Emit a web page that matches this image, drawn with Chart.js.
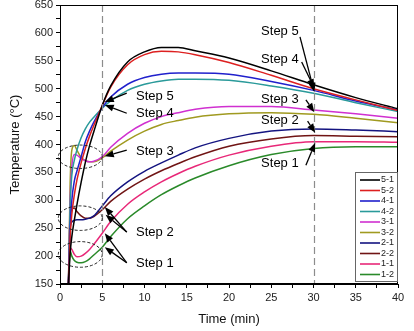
<!DOCTYPE html>
<html>
<head>
<meta charset="utf-8">
<script src="https://cdn.jsdelivr.net/npm/chart.js@4.4.0/dist/chart.umd.min.js"></script>
<style>
  html, body { margin: 0; padding: 0; background: #fff; }
  #wrap { width: 414px; height: 331px; }
</style>
</head>
<body>
<div id="wrap"><canvas id="tempChart" width="414" height="331"></canvas></div>
<script>
// --- Data (time in min, temperature in °C) ---
const times = [1, 1.2, 1.4, 1.7, 2, 2.5, 3, 3.5, 4, 5, 6, 8, 10, 12, 14, 16, 20, 25, 30, 35, 40];

const seriesNames = ['5-1', '5-2', '4-1', '4-2', '3-1', '3-2', '2-1', '2-2', '1-1', '1-2'];
const seriesColors = ['#000000', '#dd2020', '#2020cc', '#2a9a9a', '#d030d0',
                      '#a09a20', '#141480', '#701414', '#e82878', '#2a8a2a'];

const temp51 = [150, 205, 235, 265, 292, 332, 368, 398, 423, 470, 505, 548, 566, 574, 574, 568, 555, 532, 507, 484, 464];
const temp52 = [150, 235, 275, 310, 336, 367, 393, 415, 434, 470, 503, 543, 561, 567, 566, 561, 547, 524, 500, 480, 461];
const temp41 = [150, 250, 300, 335, 352, 378, 405, 424, 440, 466, 485, 508, 520, 526, 528, 528, 526, 513, 497, 478, 462];
const temp42 = [150, 290, 345, 372, 390, 412, 428, 440, 449, 465, 478, 497, 508, 514, 517, 517, 515, 505, 492, 475, 459];
const temp31 = [150, 300, 360, 382, 381, 375, 371, 369, 370, 378, 395, 420, 438, 450, 457, 463, 468, 468, 462, 455, 447];
const temp32 = [150, 330, 390, 398, 390, 377, 371, 369, 369, 376, 388, 408, 424, 436, 443, 449, 455, 457, 454, 447, 439];
const temp21 = [150, 250, 261, 264, 265, 265, 266, 268, 272, 290, 308, 333, 352, 367, 381, 394, 411, 424, 428, 426, 423];
const temp22 = [150, 270, 284, 286, 280, 272, 268, 268, 271, 283, 298, 320, 338, 353, 366, 378, 397, 410, 416, 415, 414];
const temp11 = [150, 215, 212, 203, 199, 200, 205, 212, 221, 241, 262, 293, 315, 333, 348, 361, 381, 397, 405, 405, 404];
const temp12 = [150, 210, 200, 192, 189, 188, 190, 195, 202, 216, 235, 267, 290, 310, 326, 340, 362, 382, 393, 396, 396];

const allTemps = [temp51, temp52, temp41, temp42, temp31, temp32, temp21, temp22, temp11, temp12];

// dashed reference lines (min)
const markerTimes = [5, 30];

// dashed ellipses: [centre time, centre temp, half-width (min), half-height (°C)]
const ellipses = [
    [2.4, 378, 2.6, 21],
    [2.4, 268, 2.6, 22],
    [2.4, 203, 2.6, 23]
];

// annotation labels: [text, time, temp]
const stepLabels = [
    ['Step 5', 9.0, 487], ['Step 4', 9.0, 455], ['Step 3', 9.0, 388],
    ['Step 2', 9.0, 243], ['Step 1', 9.0, 186],
    ['Step 5', 23.8, 603], ['Step 4', 23.8, 552], ['Step 3', 23.8, 480],
    ['Step 2', 23.8, 443], ['Step 1', 23.8, 366]
];

// arrows: [tail time, tail temp, head time, head temp]
const arrows = [
    [7.9, 492, 5.3, 476], [7.9, 456, 5.3, 471], [7.9, 390, 5.3, 379],
    [7.9, 243, 5.3, 288], [7.9, 243, 5.4, 274],
    [7.9, 188, 5.3, 241], [7.9, 188, 5.3, 216],
    [28.4, 593, 30.1, 494], [28.6, 548, 30.1, 501],
    [29.1, 480, 30.1, 458], [29.3, 442, 30.2, 421], [29.1, 363, 30.2, 403]
];

const FONT = "'Liberation Sans', Arial, sans-serif";

/**
 * Draws the frame, dashed markers, ellipses, arrows and step labels.
 */
const annotationPlugin = {
    id: 'annotations',
    afterDatasetsDraw(chart) {
        const { ctx, chartArea: area, scales: { x, y } } = chart;
        ctx.save();

        // vertical dashed lines
        ctx.strokeStyle = '#8c8c8c';
        ctx.lineWidth = 1.2;
        ctx.setLineDash([7, 4]);
        markerTimes.forEach(t => {
            const px = Math.round(x.getPixelForValue(t)) + 0.5;
            ctx.beginPath();
            ctx.moveTo(px, area.top);
            ctx.lineTo(px, area.bottom);
            ctx.stroke();
        });

        // dashed ellipses
        ctx.strokeStyle = '#222';
        ctx.lineWidth = 1;
        ctx.setLineDash([3, 2]);
        ellipses.forEach(([t, v, dt, dv]) => {
            const cx = x.getPixelForValue(t);
            const cy = y.getPixelForValue(v);
            const rx = x.getPixelForValue(t + dt) - cx;
            const ry = cy - y.getPixelForValue(v + dv);
            ctx.beginPath();
            ctx.ellipse(cx, cy, rx, ry, 0, 0, Math.PI * 2);
            ctx.stroke();
        });
        ctx.setLineDash([]);

        // arrows
        ctx.strokeStyle = '#000';
        ctx.fillStyle = '#000';
        ctx.lineWidth = 1.3;
        arrows.forEach(([t0, v0, t1, v1]) => {
            const x0 = x.getPixelForValue(t0), y0 = y.getPixelForValue(v0);
            const x1 = x.getPixelForValue(t1), y1 = y.getPixelForValue(v1);
            const ang = Math.atan2(y1 - y0, x1 - x0);
            const len = 9, half = 3.5;
            const bx = x1 - len * Math.cos(ang), by = y1 - len * Math.sin(ang);
            ctx.beginPath();
            ctx.moveTo(x0, y0);
            ctx.lineTo(bx, by);
            ctx.stroke();
            ctx.beginPath();
            ctx.moveTo(x1, y1);
            ctx.lineTo(bx + half * Math.sin(ang), by - half * Math.cos(ang));
            ctx.lineTo(bx - half * Math.sin(ang), by + half * Math.cos(ang));
            ctx.closePath();
            ctx.fill();
        });

        // step labels
        ctx.font = `13px ${FONT}`;
        ctx.textAlign = 'left';
        ctx.textBaseline = 'middle';
        stepLabels.forEach(([text, t, v]) => {
            ctx.fillText(text, x.getPixelForValue(t), y.getPixelForValue(v));
        });

        // frame (top and right edges)
        ctx.strokeStyle = '#000';
        ctx.lineWidth = 1;
        ctx.strokeRect(area.left + 0.5, area.top + 0.5, area.width - 1, area.height - 1);
        ctx.restore();
    },
    afterDraw(chart) {
        // legend box in the lower right corner of the plot
        const { ctx, chartArea: area } = chart;
        const boxW = 42, boxH = 109;
        const bx = area.right - boxW - 1, by = area.bottom - boxH - 3;
        ctx.save();
        ctx.fillStyle = '#fff';
        ctx.fillRect(bx, by, boxW, boxH);
        ctx.strokeStyle = '#666';
        ctx.lineWidth = 1;
        ctx.strokeRect(bx + 0.5, by + 0.5, boxW, boxH);
        ctx.font = `9px ${FONT}`;
        ctx.textBaseline = 'middle';
        chart.data.datasets.forEach((ds, i) => {
            const ly = by + 8 + i * 10.5;
            ctx.strokeStyle = ds.borderColor;
            ctx.lineWidth = 1.6;
            ctx.beginPath();
            ctx.moveTo(bx + 5, ly);
            ctx.lineTo(bx + 25, ly);
            ctx.stroke();
            ctx.fillStyle = '#222';
            ctx.fillText(ds.label, bx + 26, ly);
        });
        ctx.restore();
    }
};

const datasets = seriesNames.map((name, i) => ({
    label: name,
    data: times.map((t, j) => ({ x: t, y: allTemps[i][j] })),
    borderColor: seriesColors[i],
    backgroundColor: seriesColors[i],
    borderWidth: 1.5,
    pointRadius: 0,
    cubicInterpolationMode: 'monotone',
    fill: false
}));

new Chart(document.getElementById('tempChart'), {
    type: 'line',
    data: { datasets: datasets },
    options: {
        responsive: false,
        animation: false,
        layout: { padding: { left: 4, right: 16, top: 5, bottom: 4 } },
        plugins: {
            legend: { display: false },
            tooltip: { enabled: false }
        },
        scales: {
            x: {
                type: 'linear',
                min: 0,
                max: 40,
                afterFit: scale => { scale.height = 43; },
                ticks: {
                    stepSize: 2.5,
                    autoSkip: false,
                    maxRotation: 0,
                    color: '#222',
                    font: { family: FONT, size: 11 },
                    callback: v => (v % 5 === 0 ? v : '')
                },
                grid: { drawOnChartArea: false, tickLength: 4, color: '#000' },
                border: { color: '#000' },
                title: {
                    display: true,
                    text: 'Time (min)',
                    color: '#111',
                    font: { family: FONT, size: 13 },
                    padding: { top: 0, bottom: 0 }
                }
            },
            y: {
                min: 150,
                max: 650,
                afterFit: scale => {
                    scale.width = 56;
                    scale.paddingTop = 0;
                    scale.paddingBottom = 0;
                },
                ticks: {
                    stepSize: 25,
                    autoSkip: false,
                    color: '#222',
                    font: { family: FONT, size: 11 },
                    callback: v => (v % 50 === 0 ? v : '')
                },
                grid: { drawOnChartArea: false, tickLength: 4, color: '#000' },
                border: { color: '#000' },
                title: {
                    display: true,
                    text: 'Temperature (°C)',
                    color: '#111',
                    font: { family: FONT, size: 13 },
                    padding: { top: 4, bottom: 0 }
                }
            }
        }
    },
    plugins: [annotationPlugin]
});
</script>
</body>
</html>
